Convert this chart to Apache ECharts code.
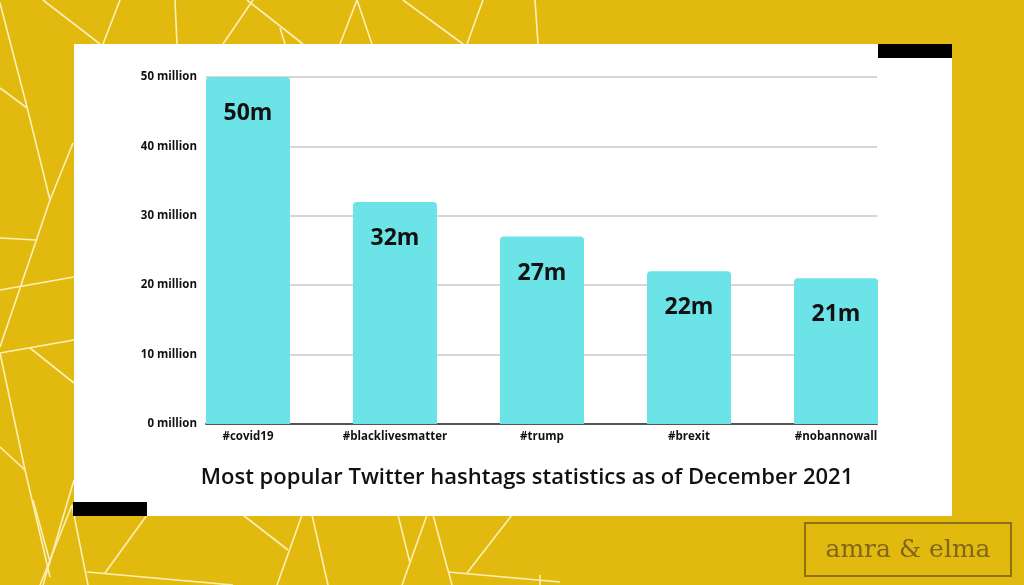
<!DOCTYPE html>
<html>
<head>
<meta charset="utf-8">
<script src="https://cdn.jsdelivr.net/npm/echarts@6/dist/echarts.min.js"></script>
<style>
  html, body { margin: 0; padding: 0; }
  #chart { width: 1024px; height: 585px; }
</style>
</head>
<body>
<div id="chart"></div>
<script>
// data
var hashtags = ["#covid19", "#blacklivesmatter", "#trump", "#brexit", "#nobannowall"];
var tweetsMillions = [50, 32, 27, 22, 21];
var yTicks = [0, 10, 20, 30, 40, 50];
var chartTitle = "Most popular Twitter hashtags statistics as of December 2021";
var brand = "amra & elma";

// decorative background lines (not data)
var decoLines = [
  [[0, 3], [27, 107], [50, 200], [0, 347]],
  [[0, 88], [27, 108]],
  [[73, 143], [50, 200]],
  [[0, 238], [36, 240]],
  [[0, 290], [74, 277]],
  [[0, 353], [74, 340]],
  [[30, 348], [74, 383]],
  [[0, 353], [25, 470], [50, 577]],
  [[0, 447], [25, 470]],
  [[74, 480], [43, 585]],
  [[43, 0], [100, 44]],
  [[120, 0], [103, 44]],
  [[175, 0], [177, 44]],
  [[253, 0], [223, 44]],
  [[247, 0], [303, 44]],
  [[280, 28], [285, 44]],
  [[357, 0], [340, 44]],
  [[357, 0], [372, 44]],
  [[403, 0], [463, 44]],
  [[483, 0], [467, 44]],
  [[535, 0], [538, 44]],
  [[33, 500], [50, 562]],
  [[72, 505], [40, 585]],
  [[72, 505], [88, 585]],
  [[147, 515], [105, 573]],
  [[87, 572], [233, 585]],
  [[243, 515], [288, 550]],
  [[302, 515], [277, 585]],
  [[312, 515], [328, 585]],
  [[398, 515], [410, 563]],
  [[427, 515], [402, 585]],
  [[433, 515], [452, 585]],
  [[448, 572], [560, 582]],
  [[512, 515], [467, 573]],
  [[540, 575], [540, 585]]
];

var graphics = decoLines.map(function (pts) {
  return {
    type: "polyline",
    z: -20,
    shape: { points: pts },
    style: { stroke: "#fcf0b8", lineWidth: 1.6, fill: null }
  };
});
graphics.push(
  { type: "rect", z: -10, shape: { x: 74, y: 44, width: 878, height: 472 }, style: { fill: "#ffffff" } },
  { type: "rect", z: -5, shape: { x: 878, y: 44, width: 74, height: 14 }, style: { fill: "#000000" } },
  { type: "rect", z: -5, shape: { x: 73, y: 502, width: 74, height: 14 }, style: { fill: "#000000" } },
  { type: "rect", z: -5, shape: { x: 805, y: 523, width: 206, height: 53 }, style: { fill: null, stroke: "#8d7115", lineWidth: 2 } },
  {
    type: "text", z: -5, x: 908, y: 550,
    style: {
      text: brand, fill: "#80661a", font: "25px 'DejaVu Serif', 'Liberation Serif', serif",
      align: "center", verticalAlign: "middle"
    }
  }
);

var chart = echarts.init(document.getElementById("chart"));
chart.setOption({
  backgroundColor: "#e2b90f",
  animation: false,
  title: {
    text: chartTitle,
    left: 522,
    top: 462,
    textAlign: "center",
    textStyle: { fontFamily: "Open Sans", fontWeight: 600, fontSize: 22, color: "#111" }
  },
  graphic: graphics,
  grid: [
    { left: 206, right: 147, top: 77, bottom: 161 },
    { left: 174.5, right: 114.5, top: 77, bottom: 161 }
  ],
  xAxis: [
    {
      gridIndex: 0, type: "category", data: hashtags,
      axisLine: { show: true, lineStyle: { color: "#555", width: 2 } },
      axisTick: { show: false }, axisLabel: { show: false }, splitLine: { show: false }
    },
    {
      gridIndex: 1, type: "category", data: hashtags,
      axisLine: { show: false }, axisTick: { show: false },
      axisLabel: { margin: 7, color: "#111", fontFamily: "Open Sans", fontWeight: "bold", fontSize: 11.5 }
    }
  ],
  yAxis: [
    {
      gridIndex: 0, type: "value", min: yTicks[0], max: yTicks[yTicks.length - 1], interval: 10,
      axisLine: { show: false }, axisTick: { show: false },
      axisLabel: { formatter: "{value} million", margin: 9, color: "#111", fontFamily: "Open Sans", fontWeight: "bold", fontSize: 11.5 },
      splitLine: { lineStyle: { color: "#c8c8c8", width: 1.5 } }
    },
    {
      gridIndex: 1, type: "value", min: yTicks[0], max: yTicks[yTicks.length - 1], show: false
    }
  ],
  series: [
    {
      type: "bar",
      xAxisIndex: 1,
      yAxisIndex: 1,
      data: tweetsMillions,
      barWidth: 84,
      itemStyle: { color: "#6ce3e7", borderRadius: [4, 4, 0, 0] },
      label: {
        show: true,
        position: "insideTop",
        distance: 25,
        formatter: "{c}m",
        color: "#111",
        fontFamily: "Open Sans",
        fontWeight: "bold",
        fontSize: 23
      }
    }
  ]
});
</script>
</body>
</html>
